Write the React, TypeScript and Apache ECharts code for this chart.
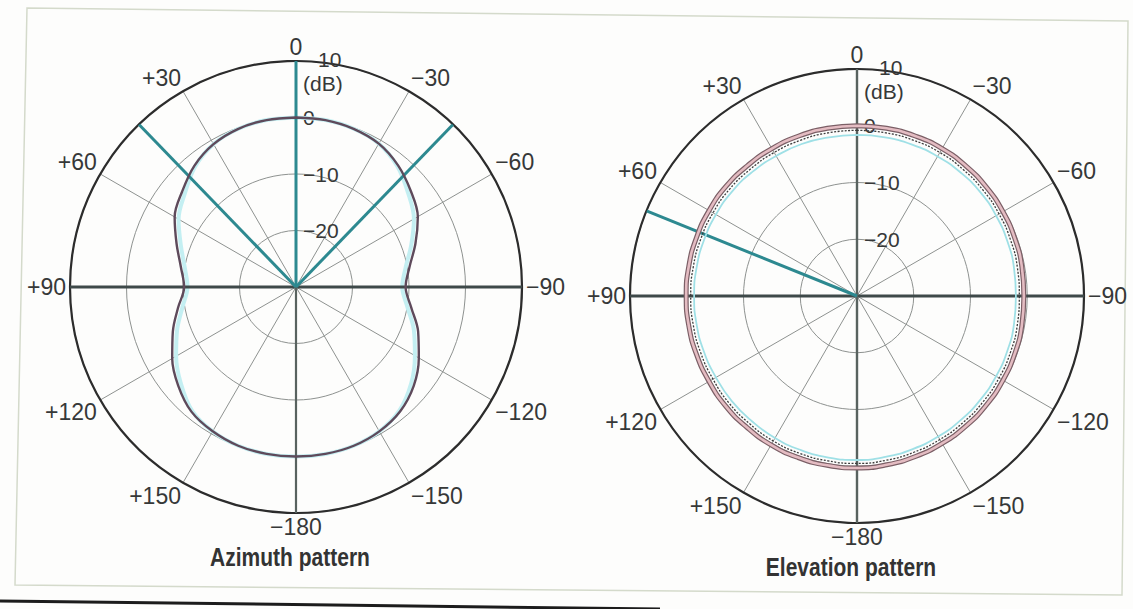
import React, { useEffect, useRef } from 'react';
import * as echarts from 'echarts';

// Sample angles (degrees, counter-clockwise from the top = "+" side)
const ANGLES = [0, 10, 20, 30, 40, 50, 60, 70, 80, 90, 100, 110, 120, 130, 140, 150, 160, 170, 180,
  190, 200, 210, 220, 230, 240, 250, 260, 270, 280, 290, 300, 310, 320, 330, 340, 350, 360];

// Azimuth pattern (dB)
const AZIMUTH_DB = [0, 0, -0.2, -0.8, -2.0, -3.7, -5.2, -7.5, -9.3, -10.2, -8.8, -6.8, -4.7, -2.8, -1.2, -0.5, -0.1, 0, 0,
  0, -0.1, -0.5, -1.3, -2.8, -4.9, -7.0, -9.3, -10.6, -9.6, -7.5, -5.1, -3.5, -1.9, -0.7, -0.2, 0, 0];
const AZIMUTH_CYAN_DB = [0, 0, -0.2, -0.8, -2.2, -4.3, -6.0, -8.3, -10.0, -10.8, -9.6, -7.6, -5.5, -3.4, -1.4, -0.5, -0.1, 0, 0,
  0, -0.1, -0.5, -1.5, -3.4, -5.7, -7.8, -10.0, -11.2, -10.3, -8.3, -5.9, -4.1, -2.1, -0.7, -0.2, 0, 0];

// Elevation pattern (dB)
const ELEVATION_DB = [0, 0, 0, 0, 0, 0.1, 0.1, 0.1, 0.1, 0.1, 0.1, 0.1, 0.1, 0.2, 0.2, 0.3, 0.3, 0.3, 0.3,
  0.2, 0.1, 0, -0.1, -0.2, -0.3, -0.4, -0.5, -0.6, -0.5, -0.4, -0.3, -0.2, -0.1, 0, 0, 0, 0];
const ELEVATION_DOTTED_DB = [-0.8, -0.8, -0.8, -0.8, -0.8, -0.7, -0.7, -0.7, -0.7, -0.7, -0.7, -0.7, -0.7, -0.6, -0.6, -0.5, -0.5, -0.5, -0.5,
  -0.6, -0.7, -0.8, -0.9, -1.0, -1.1, -1.2, -1.3, -1.4, -1.3, -1.2, -1.1, -1.0, -0.9, -0.8, -0.8, -0.8, -0.8];
const ELEVATION_CYAN_DB = [-1.6, -1.6, -1.5, -1.5, -1.4, -1.3, -1.3, -1.3, -1.3, -1.3, -1.3, -1.3, -1.3, -1.2, -1.2, -1.1, -1.1, -1.1, -1.1,
  -1.2, -1.3, -1.4, -1.5, -1.6, -1.7, -1.8, -1.9, -2.0, -1.9, -1.8, -1.7, -1.6, -1.6, -1.6, -1.6, -1.6, -1.6];

// Beam marker directions (degrees)
const AZIMUTH_MARKERS = [0, 44, 316];
const ELEVATION_MARKERS = [68];

// Radial scale (dB)
const R_MIN = -30;
const R_MAX = 10;
const R_STEP = 10;

const TITLES = ['Azimuth pattern', 'Elevation pattern'];

const FONT = "'Liberation Sans', Arial, sans-serif";
const TEXT = '#363838';

function angleLabel(v: number) {
  if (v === 0) return '0';
  if (v >= 360) return '';
  if (v < 180) return '+' + v;
  return '\u2212' + (360 - v);
}

function radiusLabel(v: number) {
  if (v === R_MAX) return '{e| }\n{t|' + v + '}\n{d|(dB)}';
  if (v === R_MIN) return '';
  if (v < 0) return '\u2212' + -v;
  return String(v);
}

function pts(db: number[]) {
  return ANGLES.map((a, i) => [db[i], a]);
}

function seg(polarIndex: number, data: number[][], color: string, width: number, z = 3, type: any = 'solid', smooth: any = false) {
  return {
    type: 'line', coordinateSystem: 'polar', polarIndex, data, showSymbol: false, symbol: 'none',
    silent: true, z, smooth, lineStyle: { color, width, type, cap: 'butt' },
  };
}

export default function App() {
  const ref = useRef<HTMLDivElement>(null);
  useEffect(() => {
    const chart = echarts.init(ref.current!, null, { renderer: 'svg' });
    const polars = [
      { center: [296, 287], radius: 226 },
      { center: [857, 296], radius: 227 },
    ];
    const titlePos = [[290, 545], [851, 555]];
    const series: any[] = [];
    // Azimuth
    series.push(seg(0, pts(AZIMUTH_CYAN_DB), '#c4eff2', 4, 2, 'solid', 0.35));
    series.push(seg(0, [[R_MAX, 90], [R_MAX, 270]], '#3e4949', 3, 3));
    series.push(seg(0, [[R_MIN, 180], [R_MAX, 180]], '#58625f', 2.2, 3));
    AZIMUTH_MARKERS.forEach((a) => series.push(seg(0, [[R_MIN, a], [R_MAX, a]], '#2d8990', 3, 4)));
    series.push(seg(0, pts(AZIMUTH_DB), '#5e4a5b', 2.4, 5, 'solid', 0.35));
    // Elevation
    series.push(seg(1, [[R_MAX, 90], [R_MAX, 270]], '#3e4949', 3, 3));
    series.push(seg(1, [[R_MAX, 0], [R_MAX, 180]], '#58625f', 2.4, 3));
    ELEVATION_MARKERS.forEach((a) => series.push(seg(1, [[R_MIN, a], [R_MAX, a]], '#2d8990', 3, 4)));
    series.push(seg(1, pts(ELEVATION_CYAN_DB), '#9fe0e6', 1.8, 5, 'solid', 0.5));
    series.push(seg(1, pts(ELEVATION_DB), '#7b5f66', 5, 5, 'solid', 0.5));
    series.push(seg(1, pts(ELEVATION_DB), '#e4bcc2', 2.6, 6, 'solid', 0.5));
    series.push(seg(1, pts(ELEVATION_DOTTED_DB), '#3c3c3c', 1.3, 6, [2, 1.5], 0.5));

    chart.setOption({
      animation: false,
      backgroundColor: '#fdfdfc',
      polar: polars,
      angleAxis: polars.map((_, i) => ({
        polarIndex: i,
        type: 'value',
        min: 0,
        max: 360,
        interval: 30,
        startAngle: 90,
        clockwise: false,
        axisLine: { show: true, lineStyle: { color: '#2c2c2c', width: 2.2 } },
        axisTick: { show: false },
        axisLabel: {
          show: true, margin: 4, lineHeight: 20, formatter: angleLabel,
          color: TEXT, fontSize: 23, fontFamily: FONT,
        },
        splitLine: { show: true, lineStyle: { color: '#8e9290', width: 1 } },
      })),
      radiusAxis: polars.map((_, i) => ({
        polarIndex: i,
        type: 'value',
        min: R_MIN,
        max: R_MAX,
        interval: R_STEP,
        axisLine: { show: false },
        axisTick: { show: false },
        axisLabel: {
          show: true,
          margin: -7,
          align: 'left',
          verticalAlign: 'middle',
          formatter: radiusLabel,
          color: TEXT,
          fontSize: 21,
          fontFamily: FONT,
          rich: {
            e: { fontSize: 12, lineHeight: 20, fontFamily: FONT },
            t: { fontSize: 21, lineHeight: 24, padding: [0, 0, 0, 15], color: TEXT, fontFamily: FONT },
            d: { fontSize: 21, lineHeight: 24, color: TEXT, fontFamily: FONT },
          },
        },
        splitLine: { show: true, lineStyle: { color: '#8e9290', width: 1 } },
      })),
      series,
      graphic: [
        {
          type: 'polygon', silent: true, z: -10,
          shape: { points: [[27, 8], [1128, 21], [1122, 595], [15, 585]] },
          style: { fill: 'none', stroke: '#d4dacb', lineWidth: 1.5 },
        },
        {
          type: 'line', silent: true,
          shape: { x1: 0, y1: 601, x2: 660, y2: 609 },
          style: { stroke: '#1c1c1c', lineWidth: 3 },
        },
        ...TITLES.map((t, i) => ({
          type: 'text', silent: true,
          x: titlePos[i][0], y: titlePos[i][1], scaleX: 0.84,
          style: {
            text: t, fill: '#333', font: "bold 25px 'Liberation Sans', Arial, sans-serif",
            textAlign: 'center', textVerticalAlign: 'top',
          },
        })),
      ],
    });
    return () => chart.dispose();
  }, []);
  return <div ref={ref} style={{ position: 'absolute', left: 0, top: 0, width: 1133, height: 609 }} />;
}
